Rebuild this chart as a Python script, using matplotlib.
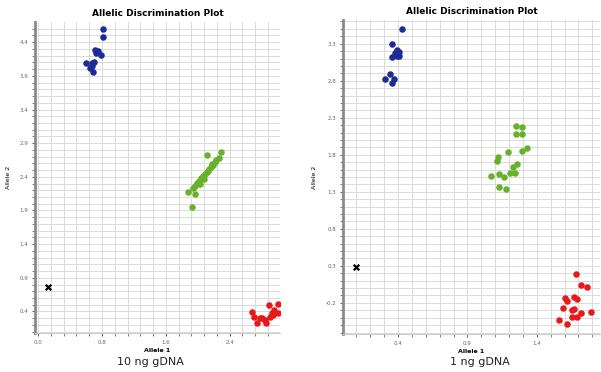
import numpy as np
import matplotlib
matplotlib.use("Agg")
import matplotlib.pyplot as plt

# ---- 10 ng gDNA panel ----
blue1_x = [0.81, 0.81, 0.71, 0.75, 0.73, 0.79, 0.60, 0.68, 0.70, 0.65, 0.69, 0.68]
blue1_y = [4.59, 4.47, 4.28, 4.27, 4.24, 4.21, 4.09, 4.09, 4.10, 4.01, 3.95, 4.04]
green1_x = [2.11, 2.29, 2.26, 2.21, 2.19, 2.16, 2.14, 2.11, 2.09, 2.06, 2.04, 2.01,
            1.99, 1.96, 1.94, 1.88, 1.96, 1.93, 2.03, 2.08, 2.13, 2.18, 2.23]
green1_y = [2.72, 2.77, 2.68, 2.62, 2.58, 2.55, 2.52, 2.47, 2.44, 2.41, 2.38, 2.34,
            2.31, 2.26, 2.23, 2.17, 2.14, 1.95, 2.29, 2.37, 2.49, 2.59, 2.65]
red1_x = [2.68, 2.71, 2.74, 2.81, 2.86, 2.90, 2.89, 3.00, 3.00, 2.93, 2.78, 2.84, 2.94, 2.96]
red1_y = [0.39, 0.32, 0.23, 0.31, 0.23, 0.32, 0.50, 0.51, 0.38, 0.38, 0.31, 0.28, 0.35, 0.42]
ntc1 = (0.12, 0.77)
xticks1 = [0.0, 0.8, 1.6, 2.4]
yticks1 = [0.4, 0.9, 1.4, 1.9, 2.4, 2.9, 3.4, 3.9, 4.4]

# ---- 1 ng gDNA panel ----
blue2_x = [0.43, 0.36, 0.39, 0.41, 0.38, 0.36, 0.39, 0.41, 0.34, 0.31, 0.37, 0.36]
blue2_y = [3.50, 3.30, 3.22, 3.19, 3.18, 3.12, 3.14, 3.14, 2.89, 2.83, 2.83, 2.77]
green2_x = [1.25, 1.29, 1.25, 1.29, 1.33, 1.29, 1.19, 1.12, 1.11, 1.26, 1.23, 1.21,
            1.24, 1.07, 1.13, 1.16, 1.13, 1.18]
green2_y = [2.19, 2.17, 2.08, 2.08, 1.89, 1.85, 1.84, 1.77, 1.71, 1.67, 1.64, 1.56,
            1.56, 1.52, 1.54, 1.50, 1.37, 1.34]
red2_x = [1.68, 1.72, 1.76, 1.60, 1.62, 1.67, 1.69, 1.59, 1.65, 1.67, 1.65, 1.69,
          1.72, 1.79, 1.56, 1.62]
red2_y = [0.19, 0.04, 0.01, -0.13, -0.17, -0.12, -0.15, -0.27, -0.29, -0.28, -0.39,
          -0.39, -0.33, -0.32, -0.43, -0.48]
ntc2 = (0.10, 0.29)
xticks2 = [0.4, 0.9, 1.4]
yticks2 = [-0.2, 0.3, 0.8, 1.3, 1.8, 2.3, 2.8, 3.3]

BLUE = "#1d2b96"
GREEN = "#67b22a"
RED = "#e8191b"

W, H = 601, 372
fig = plt.figure(figsize=(W / 100, H / 100), dpi=100)


def make_ax(l, r, t, b):
    return fig.add_axes([l / W, 1 - b / H, (r - l) / W, (b - t) / H])


def style(ax, xt, yt, xlim, ylim):
    ax.set_xticks(xt)
    ax.set_yticks(yt)
    ax.set_xticklabels([f"{v:.1f}" for v in xt])
    ax.set_yticklabels([f"{v:.1f}" for v in yt])
    dx = (xt[1] - xt[0]) / 5
    dy = (yt[1] - yt[0]) / 5
    ax.set_xticks(np.arange(xt[0] - 5 * dx, xlim[1], dx), minor=True)
    ax.set_yticks(np.arange(yt[0] - 5 * dy, ylim[1], dy), minor=True)
    ax.set_xlim(*xlim)
    ax.set_ylim(*ylim)
    ax.grid(which="both", color="#dadada", lw=0.7)
    ax.set_axisbelow(True)
    ax.tick_params(which="both", length=2, labelsize=4, colors="#666666", pad=3)
    for s in ["top", "right"]:
        ax.spines[s].set_visible(False)
    ax.spines["left"].set_color("#8a8a8a")
    ax.spines["left"].set_linewidth(2)
    ax.spines["bottom"].set_color("#cccccc")
    ax.set_xlabel("Allele 1", fontsize=4.5, fontweight="bold", labelpad=2)
    ax.set_ylabel("Allele 2", fontsize=4.5, labelpad=6)
    ax.set_title("Allelic Discrimination Plot", fontsize=6.5, fontweight="bold", pad=4)


def draw(ax, bx, by, gx, gy, rx, ry, ntc):
    ax.scatter(bx, by, s=22, color=BLUE, zorder=3, linewidths=0)
    ax.scatter(gx, gy, s=22, color=GREEN, zorder=3, linewidths=0)
    ax.scatter(rx, ry, s=22, color=RED, zorder=3, linewidths=0)
    ax.scatter([ntc[0]], [ntc[1]], marker="x", s=16, color="black", linewidths=1.6, zorder=3)


ax1 = make_ax(35, 280, 22, 333)
draw(ax1, blue1_x, blue1_y, green1_x, green1_y, red1_x, red1_y, ntc1)
style(ax1, xticks1, yticks1, (-0.04, 3.03), (0.08, 4.70))

ax2 = make_ax(343, 600, 20, 334)
draw(ax2, blue2_x, blue2_y, green2_x, green2_y, red2_x, red2_y, ntc2)
style(ax2, xticks2, yticks2, (0.004, 1.855), (-0.62, 3.62))

fig.text(150 / W, 1 - 362 / H, "10 ng gDNA", fontsize=8, ha="center", va="center", color="#222222")
fig.text(480 / W, 1 - 362 / H, "1 ng gDNA", fontsize=8, ha="center", va="center", color="#222222")

fig.savefig("out.png", dpi=100, facecolor="white")
